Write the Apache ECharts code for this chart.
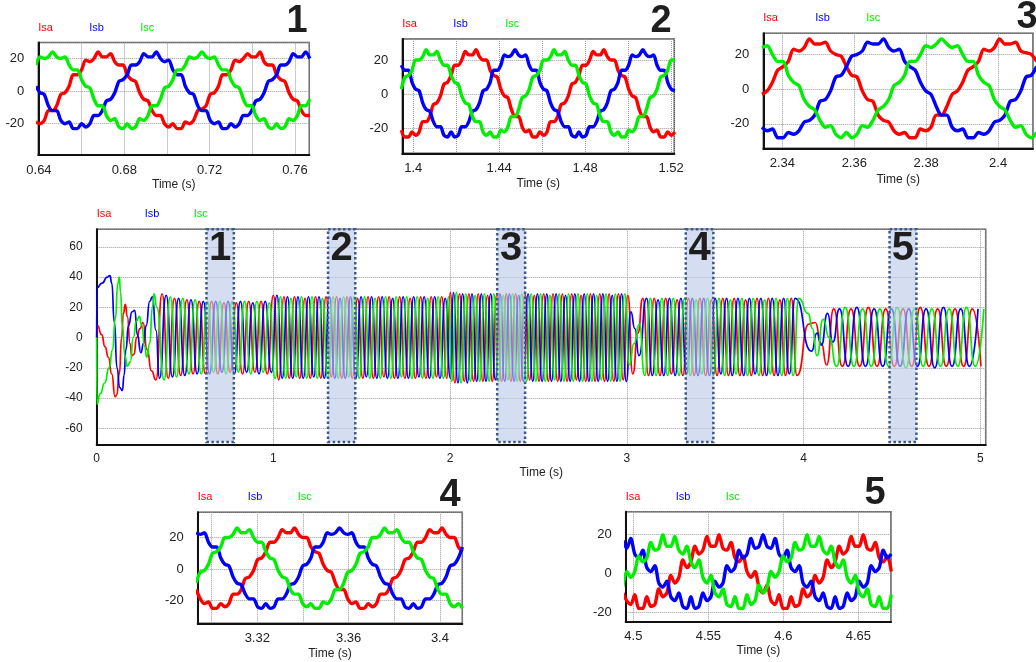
<!DOCTYPE html>
<html><head><meta charset="utf-8">
<script src="https://cdn.jsdelivr.net/npm/echarts@6.0.0/dist/echarts.min.js"></script>
<style>html,body{margin:0;padding:0;background:#fff}#c{width:1036px;height:662px}</style>
</head><body><div id="c"></div>
<script>
// ---------------- DATA ----------------
const phaseNames = ['Isa', 'Isb', 'Isc'];
const phaseColors = ['#ff0000', '#0000ff', '#00ee00'];

// detail panels: start time and sample step of each panel's samples
const panelT0 = [0.638589, 1.39447, 2.33431, 3.29323, 4.49294];
const panelDt = [0.0019444, 0.0016528, 0.0014694, 0.0017944, 0.0026722];
const panelLabels = ['1', '2', '3', '4', '5'];

const p1Isa = [-19,-20,-18,-12,-12,-9,-2,-1,3,10,10,13,19,18,20,24,21,21,23,18,16,16,10,7,6,-1,-5,-6,-12,-15,-15,-20,-22,-20,-23,-23,-19,-20,-18,-12,-11,-9,-2,-1,3,10,10,13,19,18,20,23,21,21,24,18,16,16,10,7,6,-1,-5,-6,-12,-15,-15];
const p1Isb = [3,-1,-2,-9,-12,-12,-18,-20,-19,-23,-23,-20,-22,-20,-15,-15,-12,-6,-5,-1,6,7,10,16,16,18,23,21,21,24,20,18,19,13,10,10,3,-1,-2,-9,-12,-12,-18,-20,-19,-23,-23,-20,-22,-20,-15,-15,-12,-6,-5,-1,6,7,10,16,16,18,23,21,21,24,20];
const p1Isc = [16,21,20,21,24,21,20,21,16,13,13,7,3,2,-5,-9,-9,-15,-18,-17,-22,-23,-20,-23,-22,-17,-18,-15,-9,-9,-5,2,3,7,13,13,16,21,20,21,24,21,20,21,16,13,13,7,3,2,-5,-9,-9,-15,-18,-17,-22,-23,-20,-23,-22,-17,-18,-15,-9,-9,-5];

const p2Isa = [-21,-25,-25,-22,-24,-22,-16,-16,-13,-6,-5,-1,6,7,11,17,17,20,25,23,23,26,22,20,20,14,11,10,3,-1,-2,-9,-13,-13,-19,-22,-21,-25,-25,-22,-24,-22,-16,-16,-13,-6,-5,-1,6,7,11,17,17,20,25,23,23,26,22,20,20,14,11,10,3,-1,-2,-9,-13,-13,-19,-22,-21,-25,-25,-22,-24,-22];
const p2Isb = [17,14,14,7,3,2,-5,-9,-10,-16,-19,-19,-24,-25,-22,-25,-24,-19,-19,-16,-10,-9,-5,2,3,7,14,14,17,23,22,23,26,23,22,23,17,14,14,7,3,2,-5,-9,-10,-16,-19,-19,-24,-25,-22,-25,-24,-19,-19,-16,-10,-9,-5,2,3,7,14,14,17,23,22,23,26,23,22,23,17,14,14,7,3,2];
const p2Isc = [3,10,11,14,20,20,22,26,23,23,25,20,17,17,11,7,6,-1,-5,-6,-13,-16,-16,-22,-24,-22,-25,-25,-21,-22,-19,-13,-13,-9,-2,-1,3,10,11,14,20,20,22,26,23,23,25,20,17,17,11,7,6,-1,-5,-6,-13,-16,-16,-22,-24,-22,-25,-25,-21,-22,-19,-13,-13,-9,-2,-1,3,10,11,14,20,20];

const p3Isa = [-3,-1,4,11,13,16,23,22,24,29,26,26,27,22,20,19,13,8,7,-1,-6,-7,-15,-18,-19,-24,-26,-25,-28,-28,-23,-24,-22,-15,-15,-10,-3,-1,4,11,13,16,23,22,24,29,26,26,27,22,21,20,16];
const p3Isb = [-22,-24,-23,-28,-28,-25,-26,-24,-19,-18,-15,-7,-6,-1,7,8,13,19,20,22,27,26,26,29,24,22,23,16,13,11,4,-1,-3,-10,-15,-15,-22,-24,-23,-28,-28,-25,-26,-24,-19,-18,-15,-7,-6,-1,7,8,13];
const p3Isc = [24,25,20,16,16,8,4,2,-6,-10,-12,-18,-22,-21,-26,-28,-25,-28,-26,-21,-22,-18,-12,-10,-6,2,4,8,16,16,20,25,24,26,29,26,24,25,20,16,16,8,4,2,-6,-10,-12,-18,-22,-21,-26,-28,-25];

const p4Isa = [-13,-19,-22,-21,-25,-25,-22,-24,-22,-16,-16,-13,-6,-5,-1,6,7,11,17,17,20,25,23,23,26,22,20,20,14,11,10,3,-1,-2,-9,-13,-13,-19,-22,-21,-25,-25,-22,-24,-22,-16,-16,-13,-6,-5,-1,6,7,11,17,17,20,25,23,23,26,22,20,20,14,11];
const p4Isb = [23,22,23,17,14,14,7,3,2,-5,-9,-10,-16,-19,-19,-24,-25,-22,-25,-24,-19,-19,-16,-10,-9,-5,2,3,7,14,14,17,23,22,23,26,23,22,23,17,14,14,7,3,2,-5,-9,-10,-16,-19,-19,-24,-25,-22,-25,-24,-19,-19,-16,-10,-9,-5,2,3,7,14];
const p4Isc = [-9,-2,-1,3,10,11,14,20,20,22,26,23,23,25,20,17,17,11,7,6,-1,-5,-6,-13,-16,-16,-22,-24,-22,-25,-25,-21,-22,-19,-13,-13,-9,-2,-1,3,10,11,14,20,20,22,26,23,23,25,20,17,17,11,7,6,-1,-5,-6,-13,-16,-16,-22,-24,-22,-25];

const p5Isa = [-10,-14,-16,-11,-18,-18,-12,-17,-16,-8,-12,-10,-1,-5,-2,7,3,6,14,10,12,19,14,14,20,13,12,16,8,6,9,1,-2,1,-7,-10,-6,-14,-16,-11,-18,-18,-12,-17,-16,-8,-12,-10,-1,-5,-2,7,3,6,14,10,12,19,14,14,20,13,12,16,8,6,9,1];
const p5Isb = [17,13,18,10,8,12,3,1,4,-5,-7,-4,-12,-14,-10,-17,-18,-12,-18,-17,-10,-14,-12,-4,-7,-5,4,1,3,12,8,10,18,13,14,20,14,13,18,10,8,12,3,1,4,-5,-7,-4,-12,-14,-10,-17,-18,-12,-18,-17,-10,-14,-12,-4,-7,-5,4,1,3,12,8,10];
const p5Isc = [-7,1,-2,1,9,6,8,16,12,13,20,14,14,19,12,10,14,6,3,7,-2,-5,-1,-10,-12,-8,-16,-17,-12,-18,-18,-11,-16,-14,-6,-10,-7,1,-2,1,9,6,8,16,12,13,20,14,14,19,12,10,14,6,3,7,-2,-5,-1,-10,-12,-8,-16,-17,-12,-18,-18,-11];

// main chart: start-up transient [t, value]
const mainTransIsa = [[0,0],[0.004,8],[0.028,2],[0.047,-6],[0.066,-13],[0.085,-24],[0.104,-39],[0.113,-38],[0.128,-24],[0.141,0],[0.151,16],[0.162,22],[0.173,14],[0.189,-4],[0.198,-12],[0.211,-11],[0.226,0],[0.245,6],[0.262,10],[0.285,-8],[0.31,-22],[0.335,-28]];
const mainTransIsb = [[0,0],[0.002,33],[0.03,36],[0.06,40],[0.075,41],[0.085,36],[0.1,10],[0.115,-20],[0.13,-33],[0.145,-35],[0.155,-25],[0.165,-8],[0.18,8],[0.2,17],[0.215,18],[0.23,2],[0.25,-10],[0.265,-4],[0.28,8],[0.3,24],[0.315,27],[0.335,5],[0.355,-27]];
const mainTransIsc = [[0,0],[0.001,-44],[0.02,-37],[0.045,-30],[0.07,-20],[0.09,-8],[0.105,12],[0.12,36],[0.128,40],[0.135,30],[0.145,8],[0.16,-12],[0.173,-19],[0.19,-16],[0.207,0],[0.225,11],[0.241,14],[0.255,8],[0.272,-6],[0.283,-13],[0.3,-4],[0.315,20],[0.325,29],[0.34,20]];

// main chart: steady segments, peak values at every 60 deg (order Isa+, Isc-, Isb+, Isa-, Isc+, Isb-)
const mainSegStart = [0.37, 1.0, 2.0, 3.09, 4.17];
const mainSegPeriod = [0.07, 0.0595, 0.0529, 0.0646, 0.098];
const mainSeg1 = [29,-28,28,-27,27,-26,26,-26,26,-25,26,-25,25,-24,25,-24,25,-24,24,-24,24,-24,24,-24,24,-23,24,-24,24,-23,23,-24,24,-23,24,-24,23,-23,24,-24,24,-23,24,-24,23,-23,24,-24,24,-23,24,-24,23,-23];
const mainSeg2 = [28,-27,28,-28,27,-27,27,-27,27,-27,26,-27,27,-26,27,-27,27,-27,26,-27,27,-27,27,-26,27,-27,27,-27,26,-27,27,-27,27,-26,27,-27,27,-27,26,-27,27,-27,27,-26,27,-27,27,-27,26,-27,27,-27,27,-26,27,-27,27,-27,26,-27,27,-27,27,-26,27,-27,27,-27,26,-27,27,-27,27,-26,27,-27,27,-27,26,-27,27,-27,27,-26,27,-27,27,-27,26,-27,27,-27,27,-26,27,-27,27,-27,26,-27,27,-27];
const mainSeg3 = [30,-29,30,-30,30,-30,29,-30,29,-29,29,-30,29,-29,29,-29,28,-29,29,-29,29,-29,29,-29,28,-29,29,-29,29,-28,29,-29,29,-29,28,-29,29,-28,29,-29,29,-29,29,-29,28,-29,29,-29,29,-29,29,-28,29,-29,28,-29,29,-29,29,-29,29,-29,29,-29,28,-29,29,-28,29,-29,29,-29,29,-29,28,-29,29,-29,29,-29,29,-28,29,-29,28,-29,29,-29,29,-29,29,-29,29,-29,28,-29,29,-28,29,-29,29,-29,29,-29,28,-29,29,-29,29,-29,29,-28,29,-29];
const mainSeg4 = [26,-25,26,-25,26,-25,26,-25,25,-25,26,-25,26,-25,26,-24,26,-25,25,-25,26,-25,26,-24,26,-25,26,-25,25,-25,26,-24,26,-25,26,-25,25,-25,26,-25,26,-24,26,-25,26,-25,25,-25,26,-24,26,-25,26,-25,25,-25,26,-25,26,-24,26,-25,26,-25,25,-25,26,-24,26,-25,26,-25,25,-25,26,-25,26,-24,26,-25,26,-25,26];
const mainSeg5 = [19,-19,19,-19,20,-19,19,-19,20,-19,19,-19,20,-19,19,-19,19,-19,19,-19,19,-19,20,-19,19,-20,19,-19,19,-19,20,-19,19,-19,19,-20,19,-19,20,-19,19,-19,19,-19,19,-19,20,-19,19,-19,19,-19,19];

// main chart: transitions after 3 s and after 4 s
const mainDip3Isa = [[3.005,28],[3.033,-24],[3.062,3]];
const mainDip3Isb = [[3.022,17],[3.045,6],[3.068,-12]];
const mainDip3Isc = [[3.014,-18],[3.04,-4],[3.07,9]];
const mainDip4Isa = [[4.03,9],[4.065,10],[4.1,-4],[4.13,-18]];
const mainDip4Isb = [[4.045,-9],[4.075,3],[4.1,-5],[4.135,16],[4.165,-3]];
const mainDip4Isc = [[4.025,16],[4.05,6],[4.075,-12],[4.11,12],[4.145,0]];

// zoom boxes on the main chart (time range)
const boxStart = [0.621, 1.309, 2.266, 3.333, 4.486];
const boxEnd = [0.776, 1.463, 2.424, 3.489, 4.638];

// axis ranges and tick label steps (grid order: panel1, panel2, panel3, main, panel4, panel5)
const xMin = [0.6397, 1.3949, 2.3347, 0, 3.2939, 4.4949];
const xMax = [0.7667, 1.5215, 2.4097, 5.03, 3.4098, 4.6718];
const yMin = [-39.2, -34.5, -34.1, -71, -34.5, -25];
const yMax = [29.8, 32.3, 32.2, 71.6, 36, 31.8];
const xLabelStep = [0.04, 0.04, 0.02, 1, 0.04, 0.05];
const yLabelStep = [20, 20, 20, 20, 20, 20];

// ---------------- LAYOUT ----------------
const FONT = '"Liberation Sans", Arial, Helvetica, sans-serif';
const grids = [
  {left: 38.3, top: 42.5, width: 271, height: 112.5},
  {left: 402.3, top: 39, width: 272, height: 114.3},
  {left: 763.3, top: 33.3, width: 274, height: 115},
  {left: 96.7, top: 229.3, width: 889, height: 215.7},
  {left: 197.7, top: 512.3, width: 264.6, height: 111},
  {left: 625.7, top: 511.7, width: 265.3, height: 110.3}
];
const xSplit = [6, 6, 4, 5, 6, 4];
const ySplit = [3, 3, 3, 7, 3, 3];
const tickFont = [13, 13, 13, 12, 13, 13];
const xMargin = [9, 9, 9, 8, 9, 8];
const nameGap = [24, 24, 25, 22, 24, 23];
const legendOffsets = [[0, 51, 102], [0, 51, 103], [0, 52, 103], [0, 48, 97], [0, 50, 100], [0, 50, 100]];
const panelNumPos = [[297, 21.5], [661, 21.5], [1027, 17.5], [450, 495.5], [875, 493.5]];

const isMult = (v, s) => Math.abs(v / s - Math.round(v / s)) < 1e-4;
const fmtNum = v => String(parseFloat(v.toFixed(3)));

const xAxes = grids.map((g, i) => ({
  gridIndex: i, type: 'value', min: xMin[i], max: xMax[i],
  splitNumber: xSplit[i],
  axisLine: {show: true, onZero: false, lineStyle: {color: '#111', width: 2}},
  axisTick: {show: false},
  axisLabel: {margin: xMargin[i], fontSize: tickFont[i], color: '#222', fontFamily: FONT,
    formatter: v => isMult(v, xLabelStep[i]) ? fmtNum(v) : ''},
  splitLine: {show: true, lineStyle: {type: 'dotted', color: '#9a9a9a', width: 1}},
  name: 'Time (s)', nameLocation: 'middle', nameGap: nameGap[i],
  nameTextStyle: {fontSize: 12, color: '#222', fontFamily: FONT}
}));
xAxes[3].interval = 1; delete xAxes[3].splitNumber;

const yAxes = grids.map((g, i) => ({
  gridIndex: i, type: 'value', min: yMin[i], max: yMax[i], splitNumber: ySplit[i],
  axisLine: {show: true, onZero: false, lineStyle: {color: '#111', width: 2}},
  axisTick: {show: false},
  axisLabel: {margin: 14, fontSize: tickFont[i], color: '#222', fontFamily: FONT,
    formatter: v => isMult(v, yLabelStep[i]) ? String(Math.round(v)) : ''},
  splitLine: {show: true, lineStyle: {type: 'dotted', color: '#9a9a9a', width: 1}}
}));

const series = [];
const panelWaves = [[p1Isa, p1Isb, p1Isc], [p2Isa, p2Isb, p2Isc], [p3Isa, p3Isb, p3Isc], [p4Isa, p4Isb, p4Isc], [p5Isa, p5Isb, p5Isc]];
const detailGrids = [0, 1, 2, 4, 5];
detailGrids.forEach((g, p) => {
  panelWaves[p].forEach((arr, j) => {
    series.push({
      type: 'line', name: phaseNames[j], xAxisIndex: g, yAxisIndex: g,
      showSymbol: false, symbol: 'none', smooth: 0.3, animation: false, silent: true,
      lineStyle: {color: phaseColors[j], width: 3.4}, itemStyle: {color: phaseColors[j]},
      data: arr.map((v, k) => [panelT0[p] + k * panelDt[p], v])
    });
  });
});

const mainTrans = [mainTransIsa, mainTransIsb, mainTransIsc];
const mainDip3 = [mainDip3Isa, mainDip3Isb, mainDip3Isc];
const mainDip4 = [mainDip4Isa, mainDip4Isb, mainDip4Isc];
const mainSegs = [mainSeg1, mainSeg2, mainSeg3, mainSeg4, mainSeg5];
const segOrder = [0, 2, 1];
function mainPhase(j) {
  const pts = mainTrans[j].slice();
  mainSegs.forEach((vals, s) => {
    const step = mainSegPeriod[s] / 6;
    vals.forEach((v, i) => { if (segOrder[i % 3] === j) pts.push([mainSegStart[s] + i * step, v]); });
  });
  pts.push(...mainDip3[j], ...mainDip4[j]);
  pts.sort((a, b) => a[0] - b[0]);
  return pts;
}
[0, 1, 2].forEach(j => {
  series.push({
    type: 'line', name: phaseNames[j], xAxisIndex: 3, yAxisIndex: 3,
    showSymbol: false, symbol: 'none', animation: false, silent: true,
    smooth: 0.6, smoothMonotone: 'x',
    lineStyle: {color: phaseColors[j], width: 1.7}, itemStyle: {color: phaseColors[j]},
    data: mainPhase(j)
  });
});
series.push({
  type: 'line', xAxisIndex: 3, yAxisIndex: 3, data: [], z: 10, silent: true, animation: false,
  markArea: {
    silent: true, z: 10, animation: false,
    itemStyle: {color: 'rgba(185,202,230,0.62)', borderColor: '#3a5a8c', borderWidth: 2.5, borderType: 'dotted'},
    label: {show: true, position: 'insideTop', distance: 1, formatter: p => p.name,
      fontSize: 40, fontWeight: 'bold', color: '#1e1e1e', fontFamily: FONT,
      textShadowColor: '#6fa3d8', textShadowOffsetX: 2, textShadowOffsetY: 2, textShadowBlur: 0},
    data: boxStart.map((s, i) => [{name: panelLabels[i], xAxis: s, yAxis: 71.6}, {xAxis: boxEnd[i], yAxis: -69}])
  }
});

const graphic = [];
grids.forEach((g, i) => {
  phaseNames.forEach((n, j) => {
    graphic.push({type: 'text', x: g.left + legendOffsets[i][j], y: g.top - 15, silent: true,
      style: {text: n, fill: phaseColors[j], font: '11px ' + FONT, verticalAlign: 'middle', align: 'left'}});
  });
});
panelNumPos.forEach((p, i) => {
  graphic.push({type: 'text', x: p[0], y: p[1], silent: true, z: 20,
    style: {text: panelLabels[i], fill: '#1e1e1e', font: 'bold 38px ' + FONT, align: 'center', verticalAlign: 'middle',
      shadowColor: '#6fa3d8', shadowOffsetX: 2, shadowOffsetY: 2, shadowBlur: 0}});
});

const chart = echarts.init(document.getElementById('c'), null, {renderer: 'canvas'});
chart.setOption({
  backgroundColor: '#ffffff',
  animation: false,
  grid: grids.map(g => Object.assign({show: true, borderColor: '#555', borderWidth: 1.5, containLabel: false}, g)),
  xAxis: xAxes,
  yAxis: yAxes,
  series: series,
  graphic: graphic
});
</script></body></html>
